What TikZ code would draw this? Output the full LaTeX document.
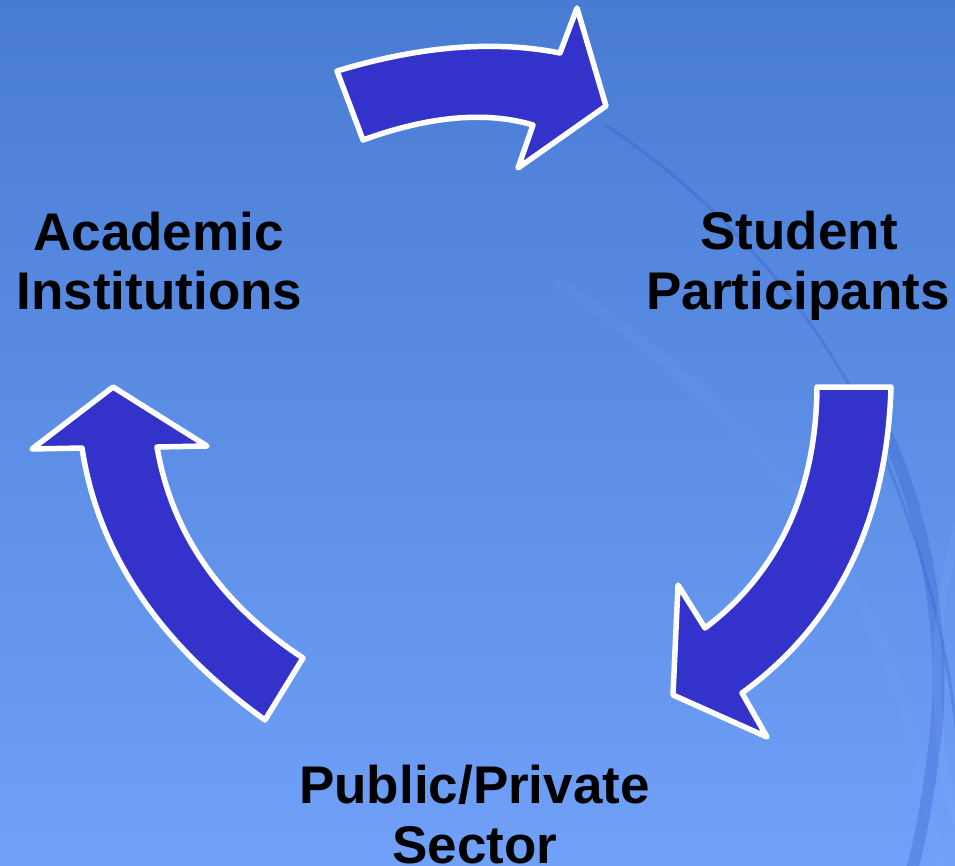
\documentclass[tikz,border=0pt]{standalone}
\usepackage{fontspec}
\setmainfont{Liberation Sans}
\definecolor{bgtop}{RGB}{72,124,210}
\definecolor{bgbot}{RGB}{112,160,248}
\definecolor{arrowfill}{RGB}{51,51,204}
\definecolor{arcdark}{RGB}{50,90,200}
\definecolor{arclight}{RGB}{140,180,250}
\tikzset{
  blockarrow/.style={fill=arrowfill, draw=white, line width=5.5pt, line join=round},
  label/.style={anchor=base, inner sep=0pt, text=black,
    font=\fontsize{53}{60}\selectfont\bfseries},
  bgarc/.style={line cap=round}
}
\begin{document}
\begin{tikzpicture}[x=1pt,y=-1pt]
\useasboundingbox (0,0) rectangle (955,866);
% background
\fill[top color=bgtop, bottom color=bgbot] (0,0) rectangle (955,866);
\begin{scope}
\clip (0,0) rectangle (955,866);
\draw[bgarc, draw=arclight, line width=12pt, opacity=0.08]
  (560,285) .. controls (680,360) and (800,470) .. (870,620) .. controls (910,710) and (930,790) .. (940,870);
\draw[bgarc, draw=arcdark, line width=3pt, opacity=0.3]
  (605,125) .. controls (720,200) and (830,320) .. (890,470) .. controls (930,570) and (950,660) .. (960,760);
\draw[bgarc, draw=arcdark, line width=12pt, opacity=0.3]
  (885,430) .. controls (935,540) and (945,660) .. (935,740) .. controls (928,800) and (920,840) .. (912,870);
\draw[bgarc, draw=arclight, line width=8pt, opacity=0.15]
  (960,520) .. controls (930,620) and (930,720) .. (955,820);
\end{scope}
% top arrow (Academic -> Student)
\draw[blockarrow] (337,71) .. controls (420,46) and (494,40) .. (560,53)
  -- (577,8) -- (606,106) -- (518,168) -- (533,125)
  .. controls (486,111) and (429,116) .. (363,140) -- cycle;
% right arrow (Student -> Public/Private)
\draw[blockarrow] (817,387) -- (891,387)
  .. controls (887,522) and (837,624) .. (742,693)
  -- (767,737) -- (673,695) -- (678,585) -- (705,628)
  .. controls (778,573) and (816,492) .. (817,387) -- cycle;
% left arrow (Public/Private -> Academic)
\draw[blockarrow] (113,387) -- (207,446) -- (157,447)
  .. controls (172,534) and (221,604) .. (303,658)
  -- (265,720)
  .. controls (159,644) and (98,553) .. (82,448)
  -- (32,449) -- cycle;
% labels
\node[label] (acad1) at (158.5,251) {Academic};
\node[label] (acad2) at (159.5,310) {Institutions};
\node[label] (stud1) at (799,250) {Student};
\node[label] (stud2) at (798,310) {Participants};
\node[label] (pub1) at (474.5,803) {Public/Private};
\node[label] (pub2) at (475,863) {Sector};
\end{tikzpicture}
\end{document}
